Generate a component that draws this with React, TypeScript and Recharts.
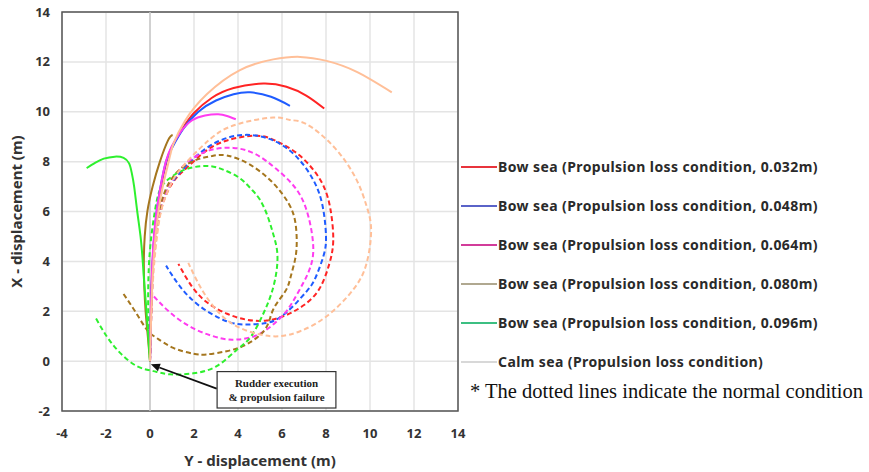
import React from "react";
import { LineChart, Line, XAxis, YAxis, CartesianGrid, ReferenceArea, ReferenceLine } from "recharts";

// horizontal axis = Y displacement, vertical axis = X displacement
const yTicks = [-4, -2, 0, 2, 4, 6, 8, 10, 12, 14];
const xTicks = [-2, 0, 2, 4, 6, 8, 10, 12, 14];

// propulsion loss condition (solid), [Y, X]
const bow032Loss = [[0, 0], [0.02, 1], [0.05, 2], [0.08, 3], [0.13, 4], [0.2, 5], [0.32, 6], [0.5, 7], [0.75, 8], [1.0, 8.6], [1.5, 9.35], [2.0, 9.95], [2.8, 10.55], [3.8, 10.95], [5.15, 11.13], [6.2, 11.0], [7.1, 10.65], [7.92, 10.13]];
const bow048Loss = [[0, 0], [0.02, 1], [0.04, 2], [0.07, 3], [0.12, 4], [0.19, 5], [0.3, 6], [0.48, 7], [0.73, 8], [1.0, 8.55], [1.5, 9.3], [2.2, 10.0], [3.0, 10.45], [3.8, 10.7], [4.55, 10.78], [5.5, 10.6], [6.36, 10.24]];
const bow064Loss = [[0, 0], [0.02, 1], [0.04, 2], [0.07, 3], [0.11, 4], [0.18, 5], [0.3, 6], [0.48, 7], [0.72, 8], [0.98, 8.6], [1.4, 9.2], [1.9, 9.65], [2.5, 9.85], [3.1, 9.9], [3.5, 9.83], [3.9, 9.7]];
const bow080Loss = [[0, 0], [-0.1, 1], [-0.2, 2], [-0.26, 3], [-0.28, 4], [-0.24, 5], [-0.12, 6], [0.12, 7], [0.45, 8], [0.83, 8.87], [1.03, 9.07]];
const bow096Loss = [[0, 0], [-0.08, 1], [-0.16, 2], [-0.25, 3], [-0.33, 4], [-0.43, 5], [-0.58, 6], [-0.72, 7], [-0.83, 7.55], [-0.95, 7.93], [-1.2, 8.15], [-1.6, 8.2], [-2.1, 8.12], [-2.5, 7.95], [-2.88, 7.74]];
const calmLoss = [[0, 0], [0.03, 1], [0.06, 2], [0.1, 3], [0.16, 4], [0.25, 5], [0.38, 6], [0.58, 7], [0.85, 8], [1.06, 8.7], [1.6, 9.65], [2.58, 10.7], [4.09, 11.67], [5.6, 12.1], [6.82, 12.2], [8.03, 12.04], [9.4, 11.6], [10.99, 10.78]];

// normal condition (dashed), [Y, X]
const bow032Normal = [[0, 0], [0.03, 1], [0.06, 2], [0.1, 3], [0.16, 4], [0.28, 5], [0.48, 6], [0.8, 6.8], [1.2, 7.35], [1.67, 7.75], [2.5, 8.4], [3.5, 8.85], [4.85, 9.04], [5.8, 8.8], [6.67, 8.34], [7.4, 7.7], [7.9, 7.0], [8.2, 6.1], [8.33, 4.87], [8.15, 3.9], [7.7, 2.9], [7.0, 2.25], [6.2, 1.85], [5.3, 1.63], [4.4, 1.66], [3.5, 1.9], [2.6, 2.35], [1.9, 3.0], [1.29, 3.9]];
const bow048Normal = [[0, 0], [0.03, 1], [0.06, 2], [0.1, 3], [0.15, 4], [0.26, 5], [0.45, 6], [0.75, 6.8], [1.15, 7.35], [1.67, 7.85], [2.5, 8.5], [3.5, 8.95], [4.55, 9.07], [5.6, 8.85], [6.6, 8.25], [7.42, 7.27], [7.85, 6.2], [8.0, 5.0], [7.88, 4.2], [7.5, 3.3], [7.12, 2.8], [6.5, 2.2], [5.9, 1.75], [5.3, 1.53], [4.39, 1.47], [3.48, 1.6], [2.27, 2.2], [1.36, 3.0], [0.73, 3.83]];
const bow064Normal = [[0, 0], [0.03, 1], [0.06, 2], [0.1, 3], [0.15, 4], [0.25, 5], [0.45, 6], [0.75, 6.8], [1.2, 7.5], [1.8, 8.05], [2.7, 8.45], [3.79, 8.55], [4.8, 8.3], [5.75, 7.7], [6.67, 6.87], [7.2, 5.8], [7.42, 4.6], [7.3, 3.8], [6.97, 3.14], [6.5, 2.4], [6.0, 1.8], [5.0, 1.1], [4.0, 0.87], [3.2, 0.92], [2.0, 1.3], [0.91, 1.95], [0.1, 2.67]];
const bow080Normal = [[0, 0], [0.02, 1], [0.05, 2], [0.08, 3], [0.14, 4], [0.25, 5], [0.42, 6], [0.7, 6.85], [1.1, 7.45], [1.6, 7.85], [2.2, 8.1], [2.8, 8.22], [3.48, 8.25], [4.5, 7.9], [5.53, 7.2], [6.29, 6.34], [6.6, 5.6], [6.67, 4.8], [6.6, 4.1], [6.4, 3.4], [6.15, 2.8], [5.6, 2.07], [5.25, 1.3], [4.39, 0.67], [3.48, 0.4], [2.58, 0.27], [1.97, 0.3], [1.06, 0.53], [0.3, 0.93], [-0.15, 1.27], [-0.68, 2.0], [-1.21, 2.7]];
const bow096Normal = [[0, 0], [-0.05, 1], [-0.08, 2], [-0.08, 3], [-0.04, 4], [0.06, 5], [0.22, 6], [0.45, 6.87], [0.85, 7.3], [1.36, 7.6], [2.0, 7.78], [2.73, 7.82], [3.4, 7.65], [4.09, 7.33], [4.6, 6.9], [5.0, 6.47], [5.35, 5.8], [5.6, 5.1], [5.78, 4.4], [5.75, 3.6], [5.55, 2.8], [5.2, 2.0], [4.6, 1.0], [3.94, 0.45], [3.03, -0.2], [1.97, -0.49], [0.91, -0.53], [0.15, -0.4], [-0.6, -0.2], [-1.36, 0.33], [-1.97, 1.0], [-2.5, 1.78]];
const calmNormal = [[0, 0], [0.03, 1], [0.07, 2], [0.12, 3], [0.2, 4], [0.32, 5], [0.5, 6], [0.8, 6.8], [1.3, 7.6], [2.27, 8.53], [3.1, 9.15], [4.09, 9.53], [5.6, 9.77], [6.36, 9.67], [7.12, 9.5], [8.4, 8.55], [9.39, 7.27], [9.85, 6.2], [10.05, 5.27], [9.85, 3.94], [9.24, 2.87], [8.03, 1.8], [6.82, 1.2], [5.91, 1.0], [5.0, 1.07], [3.79, 1.47], [2.88, 2.2], [2.27, 3.0], [1.74, 3.94]];

const seriesNames = [
  "Bow sea (Propulsion loss condition, 0.032m)",
  "Bow sea (Propulsion loss condition, 0.048m)",
  "Bow sea (Propulsion loss condition, 0.064m)",
  "Bow sea (Propulsion loss condition, 0.080m)",
  "Bow sea (Propulsion loss condition, 0.096m)",
  "Calm sea (Propulsion loss condition)",
];
const seriesColors = ["#ff2424", "#1f5cff", "#ff3cf0", "#a5761e", "#2ef02e", "#ffbf98"];
const legendColors = ["#e8343c", "#5a63c8", "#d23c9a", "#b0a890", "#3cbf82", "#d8d8d8"];
const lossSeries = [bow032Loss, bow048Loss, bow064Loss, bow080Loss, bow096Loss, calmLoss];
const normalSeries = [bow032Normal, bow048Normal, bow064Normal, bow080Normal, bow096Normal, calmNormal];

const toPoints = (pts: number[][]) => pts.map(([y, x]) => ({ y, x }));

const font = "'Noto Sans', 'Open Sans', sans-serif";

const NoteBox = (props: any) => {
  const { x, y, width, height } = props;
  const cx = x + width / 2;
  return (
    <g>
      <rect x={x} y={y} width={width} height={height} fill="#fff" stroke="#333" strokeWidth={1.2} />
      <text x={cx} y={y + 15} textAnchor="middle" fontFamily="'Liberation Serif', serif" fontWeight="bold" fontSize={11} fill="#222">Rudder execution</text>
      <text x={cx} y={y + 29} textAnchor="middle" fontFamily="'Liberation Serif', serif" fontWeight="bold" fontSize={11} fill="#222">&amp; propulsion failure</text>
    </g>
  );
};

const Arrow = (props: any) => {
  const { x1, y1, x2, y2 } = props;
  const ang = Math.atan2(y2 - y1, x2 - x1);
  const len = 9;
  const w = 4;
  const bx = x2 - len * Math.cos(ang);
  const by = y2 - len * Math.sin(ang);
  const px = -Math.sin(ang) * w;
  const py = Math.cos(ang) * w;
  return (
    <g>
      <line x1={x1} y1={y1} x2={bx} y2={by} stroke="#111" strokeWidth={1.8} />
      <polygon points={`${x2},${y2} ${bx + px},${by + py} ${bx - px},${by - py}`} fill="#111" />
    </g>
  );
};

export default function App() {
  return (
    <div style={{ position: "absolute", left: 0, top: 0, width: 869, height: 472, background: "#fff" }}>
      <LineChart width={869} height={472} margin={{ top: 12, right: 411, bottom: 0, left: 0 }}>
        <CartesianGrid stroke="#e4e4e4" strokeWidth={1.5} horizontalValues={xTicks} verticalValues={yTicks} />
        <XAxis
          type="number"
          dataKey="y"
          domain={[-4, 14]}
          ticks={yTicks}
          height={61}
          tickSize={0}
          tickMargin={18}
          axisLine={false}
          tick={{ fontSize: 13, fontWeight: 700, fill: "#333", fontFamily: font }}
          label={{ value: "Y - displacement (m)", position: "insideBottom", offset: 6, style: { fontSize: 15, fontWeight: 700, fill: "#333", fontFamily: font } }}
        />
        <YAxis
          type="number"
          dataKey="x"
          domain={[-2, 14]}
          ticks={xTicks}
          width={62}
          tickSize={0}
          tickMargin={12}
          axisLine={false}
          tick={{ fontSize: 13, fontWeight: 700, fill: "#333", fontFamily: font }}
          label={{ value: "X - displacement (m)", angle: -90, position: "insideLeft", offset: 17, style: { textAnchor: "middle", fontSize: 15, fontWeight: 700, fill: "#333", fontFamily: font } }}
        />
        <ReferenceLine x={0} stroke="#c8c8c8" strokeWidth={1.5} />
        <ReferenceArea x1={-4} x2={14} y1={-2} y2={14} fill="none" stroke="#555" strokeWidth={1.5} fillOpacity={0} />
        {normalSeries.map((pts, i) => (
          <Line
            key={"n" + i}
            data={toPoints(pts)}
            dataKey="x"
            type="natural"
            stroke={seriesColors[i]}
            strokeWidth={2}
            strokeDasharray="5 3"
            dot={false}
            isAnimationActive={false}
          />
        ))}
        {lossSeries.map((pts, i) => (
          <Line
            key={"l" + i}
            data={toPoints(pts)}
            dataKey="x"
            name={seriesNames[i]}
            type="natural"
            stroke={seriesColors[i]}
            strokeWidth={2}
            dot={false}
            isAnimationActive={false}
          />
        ))}
        <ReferenceArea x1={3.05} x2={8.45} y1={-1.88} y2={-0.42} shape={<NoteBox />} />
        <ReferenceLine segment={[{ x: 3.03, y: -1.1 }, { x: 0.04, y: -0.13 }]} shape={<Arrow />} />
      </LineChart>
      <div style={{ position: "absolute", left: 461, top: 147, fontFamily: font }}>
        {seriesNames.map((n, i) => (
          <div key={n} style={{ display: "flex", alignItems: "center", height: 39 }}>
            <div style={{ width: 36, height: 2, background: legendColors[i], marginRight: 1 }} />
            <span style={{ fontSize: 14, fontWeight: 700, letterSpacing: 0.4, color: "#2a2a2a", whiteSpace: "nowrap" }}>{n}</span>
          </div>
        ))}
      </div>
      <div style={{ position: "absolute", left: 470, top: 380, fontFamily: "'Liberation Serif', serif", fontSize: 20.5, color: "#111", whiteSpace: "nowrap" }}>
        * The dotted lines indicate the normal condition
      </div>
    </div>
  );
}
